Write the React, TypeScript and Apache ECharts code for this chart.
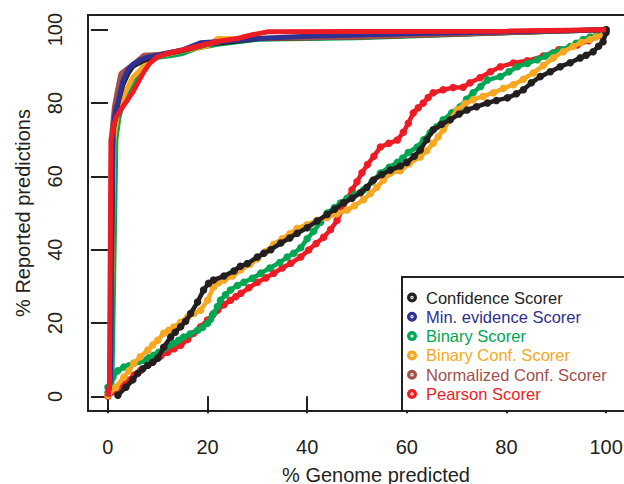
import React, { useEffect, useRef } from 'react';
import * as echarts from 'echarts';

const FONT = '"Liberation Sans", Arial, Helvetica, sans-serif';
const INK = '#231f20';

const SCORERS = [
  'Confidence Scorer',
  'Min. evidence Scorer',
  'Binary Scorer',
  'Binary Conf. Scorer',
  'Normalized Conf. Scorer',
  'Pearson Scorer',
];
const COLORS = ['#231f20', '#2e3192', '#00a651', '#f7a823', '#a3504b', '#ed1c24'];
const TICKS = [0, 20, 40, 60, 80, 100];

// Steep curves (solid lines)
const confidenceTop = [[0, 0], [0.5, 5], [1, 72], [2, 80], [3, 85], [4, 88], [5, 90], [7, 91.5], [10, 93], [15, 94.3], [20, 96], [30, 97.5], [50, 98], [100, 100]];
const minEvidenceTop = [[0, 0], [0.5, 5], [1, 72], [1.5, 78], [2, 80], [3, 86], [4, 89], [5, 90.5], [6.6, 91.8], [8, 92.5], [10.6, 93.2], [15, 94.5], [18.6, 96.4], [25, 97], [30, 97.6], [40, 98.2], [60, 98.9], [80, 99.4], [100, 100]];
const binaryTop = [[0, 0], [0.8, 3], [1.6, 70], [2.2, 76], [3, 80], [4, 82], [5, 85], [6, 87], [7, 90], [8.5, 92], [10, 92.5], [13, 93], [15, 93.5], [18, 95], [22, 96], [30, 97.4], [50, 97.8], [100, 100]];
const binaryConfTop = [[0, 0], [0.5, 5], [1.2, 70], [2, 78], [3.5, 83], [5, 87], [6.5, 89], [8, 91.5], [10, 92.8], [15, 94.2], [20, 95.5], [22, 97.6], [25, 97.5], [30, 97.6], [50, 98], [100, 100]];
const normalizedTop = [[0, 0], [0.5, 5], [0.8, 72], [1.3, 79], [2, 84], [2.6, 88], [4, 89.5], [5.5, 91], [7.2, 93], [10, 93.2], [15, 94.5], [20, 96], [25, 97.3], [30, 97.6], [50, 98], [100, 100]];
const pearsonTop = [[0, 0], [0.3, 3], [0.6, 70], [1.2, 74], [1.6, 76], [2.5, 78], [4, 81], [5, 83], [6, 85.5], [7.2, 88.5], [8.5, 91], [10, 92.6], [12, 93.5], [15, 94.5], [18, 95.5], [22, 96.8], [26, 97.6], [29, 98.6], [32, 99.4], [50, 99.5], [80, 99.6], [100, 100]];

// Lower curves (dotted)
const confidenceLow = [[2, 0.3], [3.6, 2.5], [5, 4.5], [6, 6.3], [7, 7.5], [8, 8.5], [9, 9.3], [10, 10.4], [11.2, 13.4], [12.6, 16.2], [13.5, 17.5], [14.6, 19], [15.6, 20.5], [16.6, 22.6], [18, 25.7], [19.2, 29], [20.2, 30.8], [21.2, 31.7], [23.3, 32.8], [25.3, 34.2], [26.6, 35.5], [28, 36.2], [30, 38], [31.3, 39], [32.7, 40], [34.7, 41.8], [36.5, 43.2], [38, 44.5], [40, 46], [42, 47.8], [44, 49.6], [45.5, 51], [47.3, 52.8], [49, 54], [50.7, 55.5], [52, 57], [53.3, 59], [55, 60.5], [56.7, 61.7], [58.7, 62.8], [60, 63.8], [61.5, 65.5], [62.7, 67.2], [64, 70], [65.3, 72.7], [67, 74.2], [68.7, 75.4], [70.5, 77], [72.1, 78.1], [74, 79], [76.2, 80], [78, 80.7], [80.2, 81.4], [82, 82.5], [83.4, 83.6], [85, 85.5], [86.8, 87.2], [88.8, 88.5], [90.8, 89.9], [92.8, 91], [94.8, 92.3], [96, 93], [97.4, 94], [98.5, 95.5], [99.4, 96.7], [100, 99.2], [100, 100]];
const binaryLow = [[0, 1], [0, 2.5], [0.6, 4.5], [1, 5.2], [2, 7], [3.2, 8], [4.2, 8.3], [5.2, 9], [6.2, 9.5], [7.2, 9.8], [8.2, 10.5], [9.2, 11.2], [10.2, 12], [11.2, 13], [12.2, 13.7], [13.2, 14.4], [14.2, 15.3], [15.2, 16.2], [16.5, 17], [18, 18], [19, 18.8], [20, 19.9], [20.6, 21], [21.2, 22.6], [22, 24.5], [22.6, 26.2], [23.6, 27.7], [24.6, 29], [26, 30.2], [27.3, 31.1], [29, 32.2], [30.7, 33.6], [32.5, 35], [34.5, 36.5], [36, 38], [37.3, 39], [38.7, 40.5], [40, 43], [41.3, 45], [42.7, 47.5], [44, 50], [45.5, 51.5], [46.7, 52.7], [48, 54], [49.5, 55], [51.3, 56.3], [53, 58.5], [54.7, 60.9], [56.5, 62.5], [58.1, 63.8], [59.2, 65], [60.3, 66.5], [62.1, 68], [63.4, 70], [64.7, 71.9], [66, 73.5], [67.3, 75.4], [69, 77.3], [70.7, 79], [72, 81], [73.3, 82.8], [74.8, 84.5], [76.2, 86.3], [78.8, 87.2], [80.5, 88.5], [82.2, 89.9], [84.2, 90.8], [86.2, 91.8], [87.8, 92.8], [89.4, 93.7], [91, 94.5], [92.8, 95.4], [94, 96.3], [95.4, 97.3], [96.8, 98], [98.2, 98.6], [99.2, 99.2], [100, 100]];
const binaryConfLow = [[0, 0.3], [1.6, 2.5], [3.2, 5.2], [4.2, 7], [5.2, 9], [6.5, 10.8], [8, 12.6], [9, 14], [10, 15.3], [11.2, 17.2], [12.2, 18], [13.2, 18.9], [14.6, 20.2], [16, 21.6], [17.3, 22.6], [18.6, 23.5], [20, 26.2], [21.2, 29.8], [22.2, 31], [23.3, 31.7], [25, 32.8], [26.7, 34.5], [28.5, 36], [30, 37.5], [31.7, 39.5], [33.3, 41.5], [35, 43], [36.5, 44.3], [38, 45.8], [40, 46.8], [42, 48], [44, 48.8], [46, 49.8], [48, 50.8], [49.5, 52], [51.3, 53.6], [52.7, 55.3], [54, 57], [55.3, 59], [56.7, 60.9], [58.7, 61.5], [60.5, 63.5], [62.7, 65.3], [64, 67], [65.3, 69], [66.3, 70.8], [67.3, 72.7], [68.7, 75.5], [70.1, 78.1], [71.7, 79.8], [73.3, 80.9], [75.3, 81.8], [77.4, 82.8], [79.4, 84], [81.4, 85], [83.4, 86.5], [85.4, 88.2], [87.4, 90.2], [89.4, 92.3], [91.4, 94], [93.4, 95.4], [95, 96.5], [96.8, 97.3], [98, 98], [99.4, 98.6], [100, 100]];
const pearsonLow = [[0, 0], [1.5, 1.5], [2.8, 3], [4, 4.4], [5.3, 5.8], [6.6, 7.1], [8, 8.5], [9.2, 9.8], [10.6, 11], [12, 12], [13.3, 13], [14.6, 13.9], [16, 15.5], [17.2, 17.2], [18.6, 19], [20, 20.8], [21, 22.2], [22, 23.5], [23.3, 25], [24.6, 26.2], [25.7, 27.2], [26.7, 28.1], [28.3, 29.6], [30, 31.1], [31.7, 32.3], [33.3, 33.6], [35, 35], [36.7, 36.3], [38.7, 38], [40.3, 39.9], [41.8, 41.7], [43.3, 43.4], [44.7, 45.5], [46, 48], [47, 50.8], [48, 53.6], [49, 56.3], [50, 58.5], [51, 61], [52.1, 63.2], [53.4, 65.5], [54.7, 68], [56.4, 69], [58.1, 69.9], [59.3, 72], [60.3, 74.5], [61.3, 77.3], [62.3, 78.7], [63.3, 80], [64.3, 81.5], [65.3, 82.8], [67.3, 83.6], [69.3, 84.2], [71.3, 84.3], [72.7, 85.5], [74.7, 86.9], [76.8, 88.5], [78.8, 89.9], [81.4, 90.9], [84.2, 91.5], [87.4, 92.8], [90.5, 94.5], [94.2, 95.8], [96.5, 97], [98.8, 98.5], [100, 100]];

const RING =
  'path://M0,-5A5,5 0 1,1 0,5A5,5 0 1,1 0,-5Z M0,-1.7A1.7,1.7 0 1,0 0,1.7A1.7,1.7 0 1,0 0,-1.7Z M0,-0.7A0.7,0.7 0 1,1 0,0.7A0.7,0.7 0 1,1 0,-0.7Z';

function topSeries(idx: number, data: number[][], z: number) {
  const color = COLORS[idx];
  return {
    name: SCORERS[idx],
    type: 'line',
    data,
    symbol: 'none',
    showSymbol: false,
    lineStyle: { width: 5, color },
    itemStyle: { color },
    z,
    silent: true,
  };
}

function lowSeries(idx: number, data: number[][], z: number) {
  const color = COLORS[idx];
  return {
    name: SCORERS[idx],
    type: 'line',
    data,
    symbol: 'circle',
    symbolSize: 7.5,
    showSymbol: true,
    showAllSymbol: true,
    lineStyle: { width: 4.5, color },
    itemStyle: { color },
    z,
    silent: true,
  };
}

export default function App() {
  const ref = useRef<HTMLDivElement>(null);
  useEffect(() => {
    if (!ref.current) return;
    const chart = echarts.init(ref.current, undefined, { renderer: 'svg' });
    const axisLabel = { customValues: TICKS, fontSize: 20, fontFamily: FONT, color: INK };
    const axisTick = {
      show: true,
      inside: false,
      length: 17,
      customValues: TICKS,
      lineStyle: { width: 2, color: INK },
    };
    chart.setOption({
      animation: false,
      backgroundColor: '#ffffff',
      grid: {
        left: 88,
        top: 15,
        width: 538,
        height: 396,
        outerBoundsMode: 'none',
        containLabel: false,
        show: true,
        borderColor: INK,
        borderWidth: 2,
        backgroundColor: 'transparent',
      },
      xAxis: {
        type: 'value',
        min: -4,
        max: 104,
        axisLine: { show: false },
        splitLine: { show: false },
        axisTick,
        axisLabel: { ...axisLabel, margin: 26 },
        name: '% Genome predicted',
        nameLocation: 'middle',
        nameGap: 54,
        nameTextStyle: { fontSize: 20, fontFamily: FONT, color: INK, padding: [0, 0, 0, 38] },
      },
      yAxis: {
        type: 'value',
        min: -4,
        max: 104,
        axisLine: { show: false },
        splitLine: { show: false },
        axisTick,
        axisLabel: { ...axisLabel, rotate: 90, margin: 23 },
        name: '% Reported predictions',
        nameLocation: 'middle',
        nameGap: 55,
        nameTextStyle: { fontSize: 20, fontFamily: FONT, color: INK },
      },
      legend: {
        orient: 'vertical',
        left: 407,
        top: 289,
        padding: 0,
        itemWidth: 18,
        itemHeight: 10,
        itemGap: 2.3,
        icon: RING,
        selectedMode: false,
        z: 10,
        textStyle: { fontSize: 16.5, fontFamily: FONT, lineHeight: 15 },
        data: SCORERS.map((n, i) => ({ name: n, textStyle: { color: COLORS[i] } })),
      },
      graphic: [
        {
          type: 'rect',
          z: 5,
          shape: { x: 402, y: 277, width: 240, height: 134 },
          style: { fill: '#ffffff', stroke: INK, lineWidth: 2 },
        },
      ],
      series: [
        lowSeries(5, pearsonLow, 2),
        lowSeries(2, binaryLow, 3),
        lowSeries(3, binaryConfLow, 4),
        lowSeries(0, confidenceLow, 5),
        topSeries(2, binaryTop, 2),
        topSeries(3, binaryConfTop, 3),
        topSeries(0, confidenceTop, 4),
        topSeries(4, normalizedTop, 5),
        topSeries(1, minEvidenceTop, 6),
        topSeries(5, pearsonTop, 7),
      ],
    });
    return () => chart.dispose();
  }, []);
  return <div ref={ref} style={{ position: 'absolute', left: 0, top: 0, width: 624, height: 484 }} />;
}
